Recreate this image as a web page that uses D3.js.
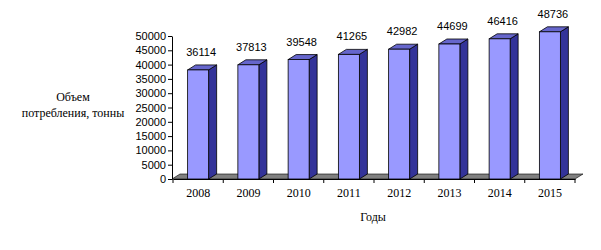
<!DOCTYPE html>
<html>
<head>
<meta charset="utf-8">
<script src="https://cdn.jsdelivr.net/npm/d3@7"></script>
<style>
  body { margin: 0; background: #fff; }
</style>
</head>
<body>
<div id="chartDiv"></div>
<script>
// consumption volume by year
var years = ["2008", "2009", "2010", "2011", "2012", "2013", "2014", "2015"];
var values = [36114, 37813, 39548, 41265, 42982, 44699, 46416, 48736];
var yTicks = [0, 5000, 10000, 15000, 20000, 25000, 30000, 35000, 40000, 45000, 50000];

var width = 601, height = 250;
var left = 173, right = 575, bottom = 179;
var dx = 8, dy = -5;       // depth offset for the 3d look
var barW = 21;

var svg = d3.select("#chartDiv")
            .append("svg")
            .attr("width", width)
            .attr("height", height);

var xScale = d3.scaleBand()
               .domain(years)
               .range([left, right]);

// axis scale and bar scale (bars in 3d view are drawn slightly taller)
var yScale = d3.scaleLinear().domain([0, 50000]).range([bottom, 36]);
var hScale = d3.scaleLinear().domain([0, 50000]).range([bottom, 28]);

// floor
svg.append("path")
   .attr("d", "M" + (left - 1) + "," + bottom + " L" + right + "," + bottom +
              " L" + (right + dx) + "," + (bottom + dy) + " L" + (left - 1 + dx) + "," + (bottom + dy) + " Z")
   .attr("fill", "#808080")
   .attr("stroke", "#000")
   .attr("stroke-width", 0.6);

var bars = svg.selectAll("g.bar")
              .data(years)
              .enter()
              .append("g")
              .attr("class", "bar");

function bx(d) { return xScale(d) + (xScale.bandwidth() - barW) / 2; }

// side
bars.append("path")
    .attr("d", function(d, i) {
        var x1 = bx(d) + barW, t = hScale(values[i]);
        return "M" + x1 + "," + bottom + " L" + (x1 + dx) + "," + (bottom + dy) +
               " L" + (x1 + dx) + "," + (t + dy) + " L" + x1 + "," + t + " Z";
    })
    .attr("fill", "#333399")
    .attr("stroke", "#000")
    .attr("stroke-width", 0.8);

// top
bars.append("path")
    .attr("d", function(d, i) {
        var x0 = bx(d), t = hScale(values[i]);
        return "M" + x0 + "," + t + " L" + (x0 + barW) + "," + t +
               " L" + (x0 + barW + dx) + "," + (t + dy) + " L" + (x0 + dx) + "," + (t + dy) + " Z";
    })
    .attr("fill", "#6666cc")
    .attr("stroke", "#000")
    .attr("stroke-width", 0.8);

// front
bars.append("rect")
    .attr("x", function(d) { return bx(d); })
    .attr("y", function(d, i) { return hScale(values[i]); })
    .attr("width", barW)
    .attr("height", function(d, i) { return bottom - hScale(values[i]); })
    .attr("fill", "#9999ff")
    .attr("stroke", "#000")
    .attr("stroke-width", 0.8);

// value labels
bars.append("text")
    .attr("x", function(d) { return bx(d) + barW / 2 + 3; })
    .attr("y", function(d, i) { return hScale(values[i]) - 14; })
    .attr("text-anchor", "middle")
    .attr("font-family", "Liberation Sans, Arial, sans-serif")
    .attr("font-size", "11px")
    .text(function(d, i) { return values[i]; });

// y axis
var yAxis = svg.append("g")
   .attr("transform", "translate(" + (left - 1) + ",0)")
   .call(d3.axisLeft(yScale).tickValues(yTicks).tickSize(4).tickSizeOuter(0).tickPadding(2).tickFormat(d3.format("d")));
yAxis.selectAll("text")
     .attr("font-family", "Liberation Sans, Arial, sans-serif")
     .attr("font-size", "11px")
     .attr("fill", "#000");
yAxis.selectAll("line, path").attr("stroke", "#000");

// x axis
var xAxis = svg.append("g")
   .attr("transform", "translate(0," + bottom + ")")
   .call(d3.axisBottom(xScale).tickSize(0).tickSizeOuter(0).tickPadding(9));
xAxis.selectAll("text")
     .attr("font-family", "Liberation Serif, Times New Roman, serif")
     .attr("font-size", "12px")
     .attr("fill", "#000");
xAxis.select("path").attr("stroke", "#000");
xAxis.selectAll("line.bound")
     .data(years.concat(["end"]))
     .enter()
     .append("line")
     .attr("class", "bound")
     .attr("x1", function(d, i) { return left + i * xScale.bandwidth(); })
     .attr("x2", function(d, i) { return left + i * xScale.bandwidth(); })
     .attr("y1", 0)
     .attr("y2", 4)
     .attr("stroke", "#000");

// axis titles
var titleFont = "Liberation Serif, Times New Roman, serif";
svg.append("text")
   .attr("x", 73).attr("y", 101)
   .attr("text-anchor", "middle")
   .attr("font-family", titleFont).attr("font-size", "12px")
   .text("Объем");
svg.append("text")
   .attr("x", 73).attr("y", 117)
   .attr("text-anchor", "middle")
   .attr("font-family", titleFont).attr("font-size", "12px")
   .text("потребления, тонны");
svg.append("text")
   .attr("x", 373).attr("y", 221)
   .attr("text-anchor", "middle")
   .attr("font-family", titleFont).attr("font-size", "12px")
   .text("Годы");
</script>
</body>
</html>
